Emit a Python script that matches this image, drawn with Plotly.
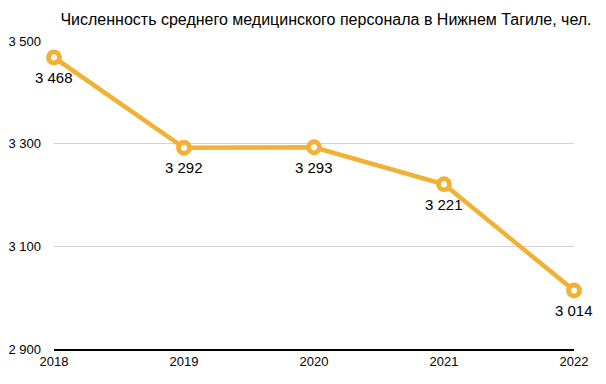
import plotly.graph_objects as go

years = [2018, 2019, 2020, 2021, 2022]
staff = [3468, 3292, 3293, 3221, 3014]
y_ticks = [2900, 3100, 3300, 3500]

def fmt(v):
    return f"{v:,}".replace(",", " ")

FONT = "Liberation Sans, Arial, sans-serif"
ORANGE = "#F2B134"

fig = go.Figure()
fig.add_trace(go.Scatter(
    x=years, y=staff,
    mode="lines+markers",
    line=dict(color=ORANGE, width=4.5),
    marker=dict(size=11, color="white", line=dict(color=ORANGE, width=4.8)),
    cliponaxis=False,
    hoverinfo="skip",
))

for x, v in zip(years, staff):
    fig.add_annotation(
        x=x, y=v, xref="x", yref="y", text=fmt(v), showarrow=False,
        xanchor="center", yanchor="middle", yshift=-20,
        font=dict(size=15, color="#000000", family=FONT),
    )

fig.update_layout(
    width=606, height=384,
    margin=dict(l=54, r=32, t=41, b=35, autoexpand=False),
    paper_bgcolor="white", plot_bgcolor="white",
    showlegend=False,
    font=dict(family=FONT, size=13, color="#000000"),
    title=dict(text="Численность среднего медицинского персонала в Нижнем Тагиле, чел.",
               x=326/606, xanchor="center", y=1 - 19/384, yanchor="middle",
               automargin=False,
               font=dict(size=16, color="#000000")),
)
fig.update_xaxes(
    range=[2018, 2022], tickmode="array", tickvals=years,
    ticktext=[str(y) for y in years],
    showgrid=False, zeroline=False, automargin=False,
    showline=True, linecolor="#000000", linewidth=1.5,
    ticks="", tickfont=dict(size=13),
)
fig.update_yaxes(
    range=[2900, 3500], tickmode="array", tickvals=y_ticks,
    ticktext=[fmt(v) for v in y_ticks],
    showgrid=True, gridcolor="#D3D3D3", gridwidth=1,
    zeroline=False, showline=False, ticks="", automargin=False,
    ticklabelstandoff=12, tickfont=dict(size=13),
)

fig.write_html("out.html", config={"displayModeBar": False},
               post_script="document.body.style.margin='0';document.body.style.padding='0';")
